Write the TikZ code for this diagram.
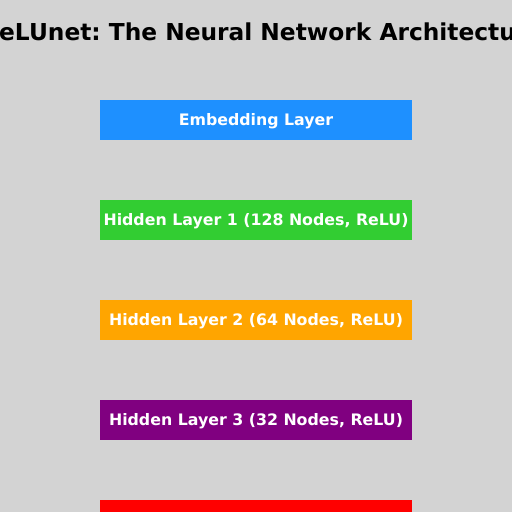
\documentclass[tikz,border=0pt]{standalone}
\usepackage{fontspec}
\setmainfont{DejaVu Sans}
\usepackage{tikz}
\definecolor{bggray}{HTML}{D3D3D3}
\definecolor{embblue}{HTML}{1E90FF}
\definecolor{hidgreen}{HTML}{32CD32}
\definecolor{hidorange}{HTML}{FFA500}
\definecolor{hidpurple}{HTML}{800080}
\definecolor{outred}{HTML}{FF0000}
\tikzstyle{layer}=[rectangle, draw=none, minimum width=312pt,
minimum height=40pt, inner sep=0pt, text=white, text height=12pt,
text depth=1pt, font=\fontsize{15.8}{19}\selectfont\bfseries]
\frenchspacing

\begin{document}
\begin{tikzpicture}[x=1pt, y=-1pt]
  % Background
  \fill[bggray] (0, 0) rectangle (512, 512);
  \useasboundingbox (0, 0) rectangle (512, 512);
  \clip (0, 0) rectangle (512, 512);

  % Title (cut off at both edges)
  \node (title) at (-1, 40.3) [anchor=base west, inner sep=0pt,
    font=\fontsize{23.3}{28}\selectfont\bfseries]
    {\llap{R}eLUnet: The Neural Network Architecture};

  % Layers
  \node (emb) at (256, 120) [layer, fill=embblue] {Embedding Layer};
  \node (h1) at (256, 220) [layer, fill=hidgreen]
    {Hidden Layer 1 (128 Nodes, ReLU)};
  \node (h2) at (256, 320) [layer, fill=hidorange]
    {Hidden Layer 2 (64 Nodes, ReLU)};
  \node (h3) at (256, 420) [layer, fill=hidpurple]
    {Hidden Layer 3 (32 Nodes, ReLU)};
  \node (out) at (256, 520) [layer, fill=outred] {};
\end{tikzpicture}
\end{document}
